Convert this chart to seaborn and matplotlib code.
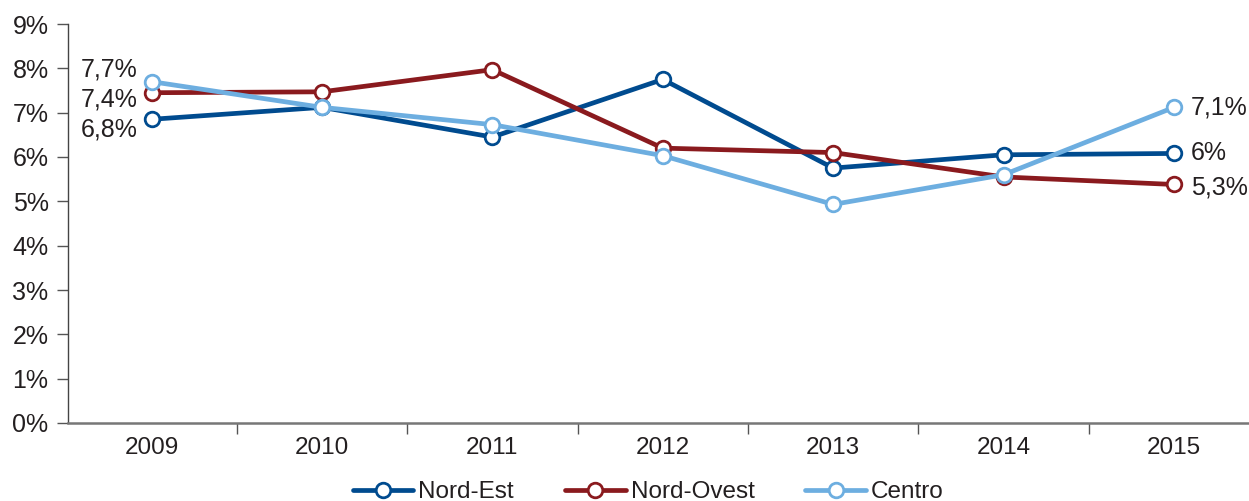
import matplotlib
matplotlib.use("Agg")
import matplotlib.pyplot as plt
import seaborn as sns
import pandas as pd
import numpy as np
from matplotlib.lines import Line2D
from matplotlib.ticker import FixedLocator

years = ["2009", "2010", "2011", "2012", "2013", "2014", "2015"]
nord_est = [6.85, 7.12, 6.45, 7.75, 5.75, 6.05, 6.08]
nord_ovest = [7.45, 7.47, 7.97, 6.2, 6.1, 5.55, 5.38]
centro = [7.7, 7.12, 6.73, 6.03, 4.93, 5.6, 7.12]
series_names = ["Nord-Est", "Nord-Ovest", "Centro"]
colors = ["#004B8F", "#8A1A1E", "#6DAEE0"]
start_labels = ["6,8%", "7,4%", "7,7%"]
end_labels = ["6%", "5,3%", "7,1%"]
yticks = list(range(0, 10))

sns.set_theme(style="white")
plt.rcParams["font.family"] = ["Liberation Sans", "DejaVu Sans"]

df = pd.DataFrame({
    "year": years * 3,
    "x": list(range(len(years))) * 3,
    "value": nord_est + nord_ovest + centro,
    "series": sum([[s] * len(years) for s in series_names], []),
})

fig = plt.figure(figsize=(12.49, 5.01), dpi=100)
ax = fig.add_axes([68 / 1249, 1 - 423 / 501, (1249 - 68) / 1249, (423 - 24) / 501])

palette = dict(zip(series_names, colors))
sns.lineplot(data=df, x="x", y="value", hue="series", palette=palette,
             linewidth=3.4, marker="o", markersize=10.5, markerfacecolor="white",
             markeredgewidth=2, legend=False, ax=ax)
for line, c in zip(ax.lines, colors):
    line.set_markeredgecolor(c)

ax.set_xlim(-0.49, 6.44)
ax.set_ylim(0, 9)
ax.set_xlabel("")
ax.set_ylabel("")

ax.set_xticks(range(len(years)))
ax.set_xticklabels(years, fontsize=17.5, color="#231f20")
ax.xaxis.set_minor_locator(FixedLocator(np.arange(-0.5, len(years), 1.0)))
ax.tick_params(axis="x", which="major", length=0, pad=10)
ax.tick_params(axis="x", which="minor", length=8, width=1, color="#555555", direction="out", bottom=True)

ax.set_yticks(yticks)
ax.set_yticklabels([f"{t}%" for t in yticks], fontsize=18, color="#231f20")
ax.tick_params(axis="y", length=8, width=1, color="#555555", direction="out", left=True, pad=6)

for s in ["top", "right"]:
    ax.spines[s].set_visible(False)
ax.spines["left"].set_color("#444444")
ax.spines["left"].set_linewidth(1)
ax.spines["bottom"].set_color("#777777")
ax.spines["bottom"].set_linewidth(1.8)

start_y = [6.63, 7.3, 7.98]
for lab, yv in zip(start_labels, start_y):
    ax.text(-0.08, yv, lab, ha="right", va="center", fontsize=18, color="#231f20")

end_y = [6.08, 5.32, 7.12]
for lab, yv in zip(end_labels, end_y):
    ax.text(6.1, yv, lab, ha="left", va="center", fontsize=18, color="#231f20")

handles = [Line2D([0], [0], color=c, linewidth=3.4, marker="o", markersize=10.5,
                  markerfacecolor="white", markeredgecolor=c, markeredgewidth=2)
           for c in colors]
fig.legend(handles, series_names, loc="lower center", bbox_to_anchor=(0.519, -0.048),
           ncol=3, frameon=False, fontsize=17.5, handlelength=2.5, columnspacing=2.1,
           handletextpad=0.2, labelcolor="#231f20")

fig.savefig("out.png", dpi=100)
